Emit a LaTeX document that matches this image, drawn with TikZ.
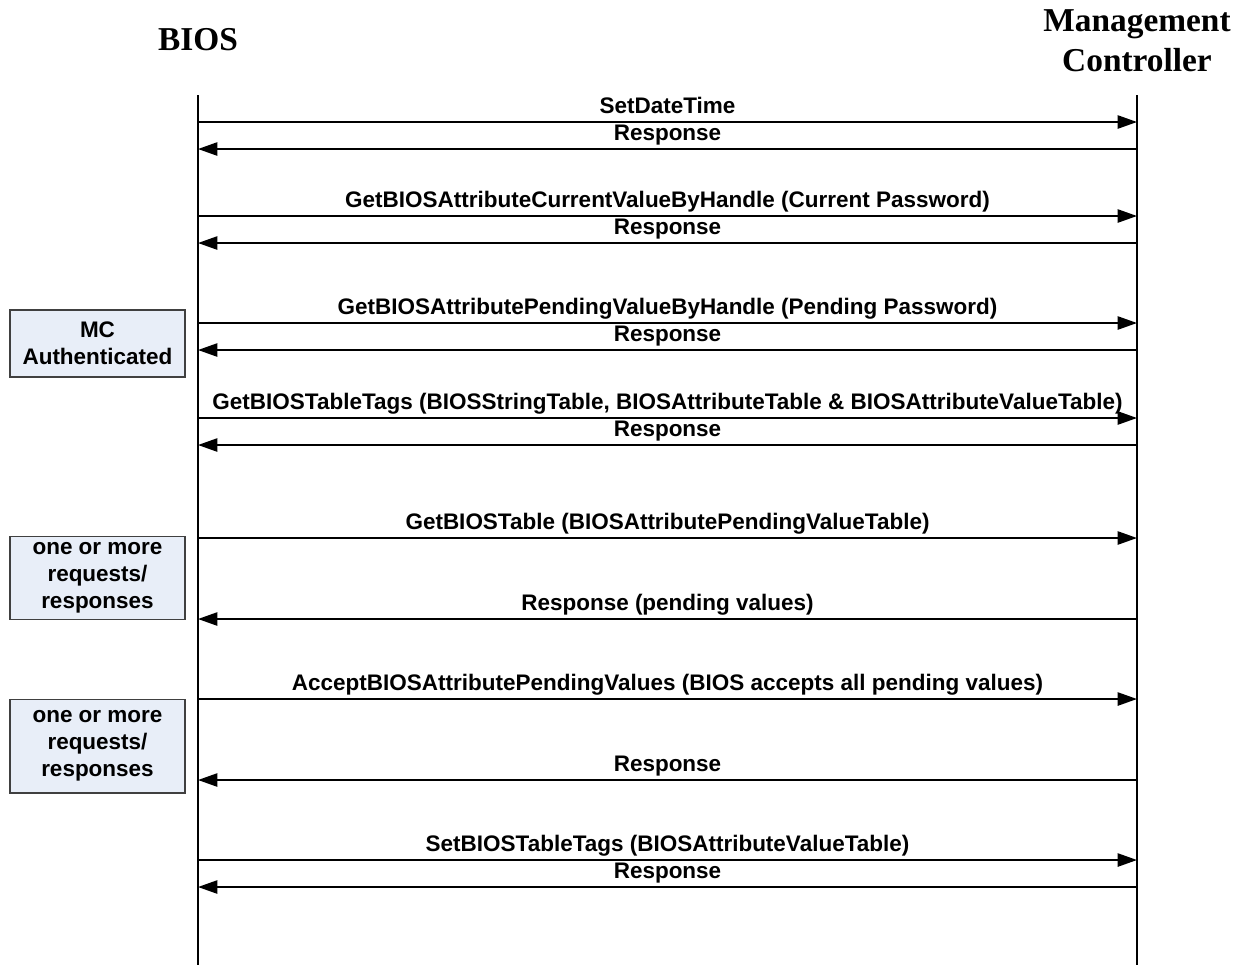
\documentclass[tikz,border=0pt]{standalone}
\usepackage{fontspec}
\setmainfont{Liberation Sans}
\newfontfamily\headfont{Liberation Serif}
\usetikzlibrary{arrows.meta, positioning}
\definecolor{notefill}{HTML}{E8EEF8}
\tikzstyle{party} = [font=\headfont\bfseries\fontsize{19}{23}\selectfont, align=center]
\tikzstyle{lifeline} = [line width=0.6pt]
\tikzstyle{msg} = [line width=1.1pt, -{Triangle[length=11pt,width=7.5pt]}]
\tikzstyle{msglabel} = [font=\bfseries\fontsize{12.8}{15}\selectfont, above, inner sep=1.5pt, text height=9pt, text depth=2.8pt]
\tikzstyle{note} = [rectangle, draw=black!75, fill=notefill, line width=0.6pt, minimum width=3.5cm, align=center, font=\bfseries\fontsize{12.8}{15.3}\selectfont]

\begin{document}
\begin{tikzpicture}[x=0.02cm, y=-0.02cm]
        \useasboundingbox (0,0) rectangle (1247,965);
        % Parties
        \node [party] (bios) at (198,40) {BIOS};
        \node [party] (mc) at (1137,41) {Management\\Controller};

        % Lifelines
        \coordinate (biostop) at (198,95);
        \coordinate (biosend) at (198,965);
        \coordinate (mctop) at (1137,95);
        \coordinate (mcend) at (1137,965);
        \draw [lifeline] (biostop) -- (biosend);
        \draw [lifeline] (mctop) -- (mcend);

        % Message rows
        \foreach \r/\y in {1/122, 2/149, 3/216, 4/243, 5/323, 6/350, 7/418, 8/445,
                           9/538, 10/619, 11/699, 12/780, 13/860, 14/887} {
            \coordinate (bios\r) at (198,\y);
            \coordinate (mc\r) at (1137,\y);
        }

        % Notes
        \node [note, minimum height=1.34cm] (auth) at (97.5,343.5) {MC\\Authenticated};
        \node [note, minimum height=1.64cm] (multi1) at (97.5,578) {one or more\\requests/\\responses};
        \node [note, minimum height=1.88cm] (multi2) at (97.5,746) {one or more\\requests/\\responses};

        % Messages
        \draw [msg] (bios1) -- (mc1) node[msglabel, midway] {SetDateTime};
        \draw [msg] (mc2) -- (bios2) node[msglabel, midway] {Response};
        \draw [msg] (bios3) -- (mc3) node[msglabel, midway] {GetBIOSAttributeCurrentValueByHandle (Current Password)};
        \draw [msg] (mc4) -- (bios4) node[msglabel, midway] {Response};
        \draw [msg] (bios5) -- (mc5) node[msglabel, midway] {GetBIOSAttributePendingValueByHandle (Pending Password)};
        \draw [msg] (mc6) -- (bios6) node[msglabel, midway] {Response};
        \draw [msg] (bios7) -- (mc7) node[msglabel, midway] {GetBIOSTableTags (BIOSStringTable, BIOSAttributeTable \& BIOSAttributeValueTable)};
        \draw [msg] (mc8) -- (bios8) node[msglabel, midway] {Response};
        \draw [msg] (bios9) -- (mc9) node[msglabel, midway] {GetBIOSTable (BIOSAttributePendingValueTable)};
        \draw [msg] (mc10) -- (bios10) node[msglabel, midway] {Response (pending values)};
        \draw [msg] (bios11) -- (mc11) node[msglabel, midway] {AcceptBIOSAttributePendingValues (BIOS accepts all pending values)};
        \draw [msg] (mc12) -- (bios12) node[msglabel, midway] {Response};
        \draw [msg] (bios13) -- (mc13) node[msglabel, midway] {SetBIOSTableTags (BIOSAttributeValueTable)};
        \draw [msg] (mc14) -- (bios14) node[msglabel, midway] {Response};
    \end{tikzpicture}
\end{document}
